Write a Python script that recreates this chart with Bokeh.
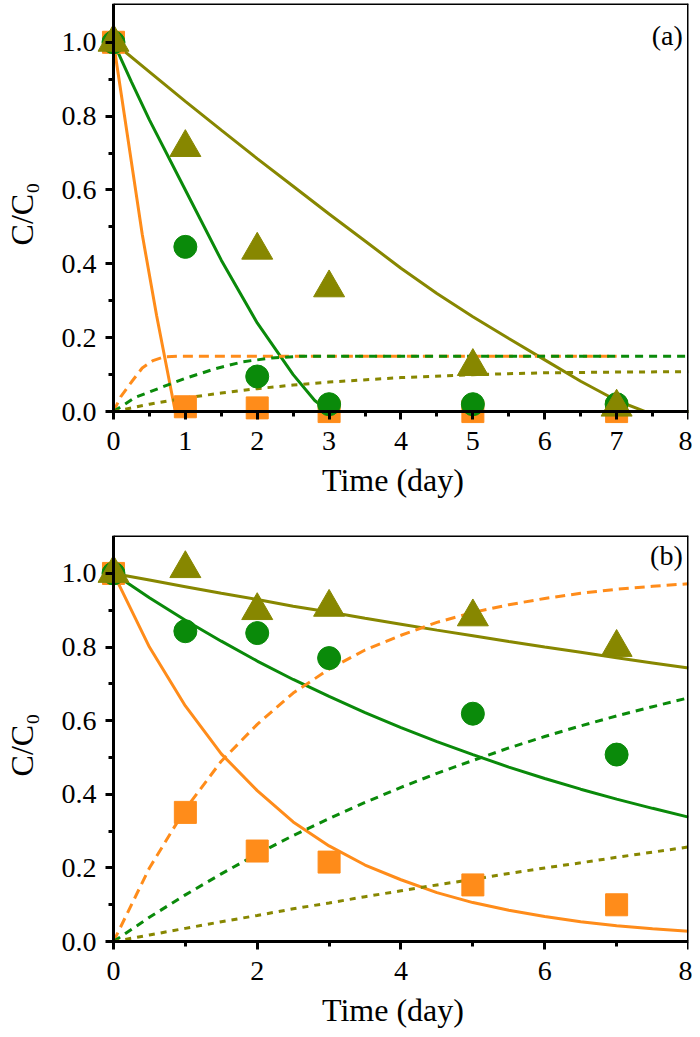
from bokeh.plotting import figure
from bokeh.layouts import column
from bokeh.models import Range1d, FixedTicker, Label, CustomJSTickFormatter, LinearAxis
from bokeh.embed import file_html
from bokeh.resources import INLINE

# ---------------- data ----------------
t_days = [0, 1, 2, 3, 5, 7]

# panel (a) measurements
a_square = [1.0, 0.013, 0.01, 0.0, 0.0, 0.0]
a_circle = [1.0, 0.446, 0.095, 0.02, 0.02, 0.02]
a_triangle = [1.0, 0.715, 0.437, 0.335, 0.122, 0.012]

# panel (a) fitted curves (solid)
a_orange_fit_t = [0, 0.2, 0.4, 0.6, 0.8, 0.86, 8]
a_orange_fit = [1.0, 0.74, 0.48, 0.26, 0.06, 0.0, 0.0]
a_green_fit_t = [0, 0.25, 0.5, 1, 1.5, 2, 2.5, 2.8, 3, 8]
a_green_fit = [1.0, 0.893, 0.79, 0.6, 0.41, 0.24, 0.1, 0.03, 0.0, 0.0]
a_olive_fit_t = [0, 0.5, 1, 1.5, 2, 2.5, 3, 3.5, 4, 4.5, 5, 5.5, 6, 6.5, 7, 7.4, 8]
a_olive_fit = [1.0, 0.92, 0.84, 0.762, 0.685, 0.61, 0.535, 0.462, 0.388, 0.32, 0.257, 0.198, 0.14, 0.082, 0.03, 0.0, 0.0]

# panel (a) fitted curves (dashed)
a_orange_dash_t = [0, 0.1, 0.25, 0.4, 0.55, 0.7, 0.9, 7]
a_orange_dash = [0.0, 0.04, 0.08, 0.118, 0.138, 0.148, 0.15, 0.15]
a_green_dash_t = [0, 0.3, 0.7, 1.0, 1.4, 1.8, 2.2, 2.6, 8]
a_green_dash = [0.0, 0.038, 0.068, 0.09, 0.115, 0.135, 0.145, 0.15, 0.15]
a_olive_dash_t = [0, 0.5, 1, 1.5, 2, 2.5, 3, 4, 5, 6, 7, 8]
a_olive_dash = [0.0, 0.02, 0.037, 0.05, 0.062, 0.072, 0.08, 0.092, 0.1, 0.105, 0.107, 0.108]

# panel (b) measurements
b_square = [1.0, 0.351, 0.246, 0.216, 0.154, 0.10]
b_circle = [1.0, 0.843, 0.838, 0.770, 0.619, 0.508]
b_triangle = [1.0, 1.013, 0.899, 0.908, 0.882, 0.799]

# panel (b) fitted curves
b_fit_t = [0, 0.5, 1, 1.5, 2, 2.5, 3, 3.5, 4, 4.5, 5, 5.5, 6, 6.5, 7, 7.5, 8]
b_orange_fit = [1.0, 0.80, 0.64, 0.51, 0.41, 0.325, 0.26, 0.208, 0.168, 0.133, 0.106, 0.085, 0.068, 0.054, 0.043, 0.035, 0.028]
b_orange_dash = [0.0, 0.20, 0.36, 0.49, 0.59, 0.675, 0.74, 0.792, 0.832, 0.867, 0.894, 0.915, 0.932, 0.946, 0.957, 0.965, 0.972]
b_green_fit = [1.0, 0.934, 0.873, 0.816, 0.762, 0.712, 0.666, 0.622, 0.581, 0.543, 0.508, 0.474, 0.443, 0.414, 0.387, 0.362, 0.338]
b_green_dash = [0.0, 0.066, 0.127, 0.184, 0.238, 0.288, 0.334, 0.378, 0.419, 0.457, 0.492, 0.526, 0.557, 0.586, 0.613, 0.638, 0.662]
b_olive_fit = [1.0, 0.982, 0.964, 0.946, 0.929, 0.911, 0.895, 0.878, 0.862, 0.846, 0.831, 0.815, 0.80, 0.786, 0.771, 0.757, 0.743]
b_olive_dash = [0.0, 0.018, 0.036, 0.054, 0.071, 0.089, 0.105, 0.122, 0.138, 0.154, 0.169, 0.185, 0.20, 0.214, 0.229, 0.243, 0.257]

a_xticks = [0, 1, 2, 3, 4, 5, 6, 7, 8]
a_xminor = [0.5, 1.5, 2.5, 3.5, 4.5, 5.5, 6.5, 7.5]
b_xticks = [0, 2, 4, 6, 8]
b_xminor = [1, 3, 5, 7]
y_ticks = [0.0, 0.2, 0.4, 0.6, 0.8, 1.0]
y_minor = [0.1, 0.3, 0.5, 0.7, 0.9]

ORANGE = "#FF8C1A"
GREEN = "#0A8A0A"
OLIVE = "#878700"
FONT = "Liberation Serif"
XMAX = 8
XPAD = 0.2222
YPAD = 0.035


def line_axis(ticks, minor, **kw):
    """Axis drawn at a data location: line and ticks only."""
    ax = LinearAxis(ticker=FixedTicker(ticks=ticks, minor_ticks=minor), **kw)
    ax.axis_line_width = 3
    ax.axis_line_color = "black"
    ax.major_tick_line_width = 3
    ax.minor_tick_line_width = 3
    ax.major_tick_out = 8 if ticks else 0
    ax.major_tick_in = 0
    ax.minor_tick_out = 5 if minor else 0
    ax.minor_tick_in = 0
    ax.major_label_text_alpha = 0
    return ax


def label_axis(ticks, label, **kw):
    """Axis in the side panel: tick labels and title only."""
    ax = LinearAxis(ticker=FixedTicker(ticks=ticks, minor_ticks=[]), axis_label=label, **kw)
    ax.axis_line_color = None
    ax.major_tick_line_color = None
    ax.minor_tick_line_color = None
    ax.major_tick_out = 0
    ax.major_tick_in = 0
    ax.minor_tick_out = 0
    ax.minor_tick_in = 0
    ax.major_label_text_font = FONT
    ax.major_label_text_font_size = "28px"
    ax.major_label_text_color = "black"
    ax.axis_label_text_font = FONT
    ax.axis_label_text_font_style = "normal"
    ax.axis_label_text_font_size = "32px"
    ax.axis_label_text_color = "black"
    return ax


def make_panel(height, ymax, border_top, border_bottom, xticks, xminor, tag, tag_y):
    p = figure(width=692, height=height, output_backend="svg", toolbar_location=None,
               x_range=Range1d(-XPAD, XMAX), y_range=Range1d(-YPAD, ymax),
               x_axis_location=None, y_axis_location=None,
               min_border_left=96, min_border_right=4,
               min_border_top=border_top, min_border_bottom=border_bottom)
    p.grid.visible = False
    p.outline_line_color = None
    p.background_fill_color = "white"
    p.border_fill_color = "white"

    # frame lines and ticks at x=0 / y=0 / top / right
    p.add_layout(line_axis(xticks, xminor, fixed_location=0, bounds=(0, XMAX)), "below")
    p.add_layout(line_axis([], [], fixed_location=0, bounds=(0, ymax)), "left")
    p.add_layout(line_axis(y_ticks, y_minor, fixed_location=0, bounds=(0, 1.0)), "left")
    p.add_layout(line_axis([], [], fixed_location=ymax, bounds=(0, XMAX)), "above")
    p.add_layout(line_axis([], [], fixed_location=XMAX, bounds=(0, ymax)), "right")

    # tick labels and titles
    xl = label_axis(xticks, "Time (day)", bounds=(0, XMAX))
    xl.major_label_standoff = 7
    xl.axis_label_standoff = 9
    p.add_layout(xl, "below")

    yl = label_axis(y_ticks, "C/C\u2080", bounds=(0, 1.0),
                    formatter=CustomJSTickFormatter(code="return tick.toFixed(1);"))
    yl.major_label_standoff = 1
    yl.axis_label_standoff = 19
    p.add_layout(yl, "left")

    p.add_layout(Label(x=7.92, y=tag_y, text=tag, text_align="right", text_baseline="top",
                       text_font=FONT, text_font_size="28px", text_color="black"))
    return p


pa = make_panel(500, 1.105, 3, 75, a_xticks, a_xminor, "(a)", 1.06)
pb = make_panel(530, 1.103, 35, 74, b_xticks, b_xminor, "(b)", 1.092)

# panel (a)
pa.line(a_orange_fit_t, a_orange_fit, line_color=ORANGE, line_width=3)
pa.line(a_green_fit_t, a_green_fit, line_color=GREEN, line_width=3)
pa.line(a_olive_fit_t, a_olive_fit, line_color=OLIVE, line_width=3)
pa.line(a_orange_dash_t, a_orange_dash, line_color=ORANGE, line_width=3, line_dash="10 6")
pa.line(a_green_dash_t, a_green_dash, line_color=GREEN, line_width=3, line_dash="8 6")
pa.line(a_olive_dash_t, a_olive_dash, line_color=OLIVE, line_width=3, line_dash="6 6")
pa.scatter(t_days, a_square, marker="square", size=22, fill_color=ORANGE, line_color=ORANGE)
pa.scatter(t_days, a_circle, marker="circle", size=23, fill_color=GREEN, line_color=GREEN)
pa.scatter(t_days, a_triangle, marker="triangle", size=31, fill_color=OLIVE, line_color=OLIVE)

# panel (b)
pb.line(b_fit_t, b_orange_fit, line_color=ORANGE, line_width=3)
pb.line(b_fit_t, b_green_fit, line_color=GREEN, line_width=3)
pb.line(b_fit_t, b_olive_fit, line_color=OLIVE, line_width=3)
pb.line(b_fit_t, b_orange_dash, line_color=ORANGE, line_width=3, line_dash="10 6")
pb.line(b_fit_t, b_green_dash, line_color=GREEN, line_width=3, line_dash="8 6")
pb.line(b_fit_t, b_olive_dash, line_color=OLIVE, line_width=3, line_dash="6 6")
pb.scatter(t_days, b_square, marker="square", size=22, fill_color=ORANGE, line_color=ORANGE)
pb.scatter(t_days, b_circle, marker="circle", size=23, fill_color=GREEN, line_color=GREEN)
pb.scatter(t_days, b_triangle, marker="triangle", size=31, fill_color=OLIVE, line_color=OLIVE)

layout = column(pa, pb, spacing=0)
open("out.html", "w").write(file_html(layout, INLINE))
